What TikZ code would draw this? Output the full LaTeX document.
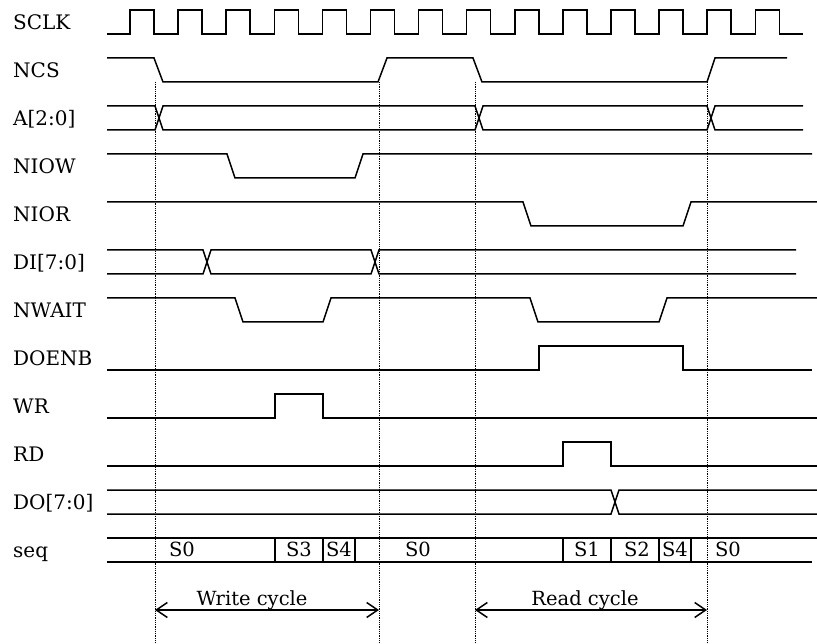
\documentclass[tikz,border=0pt]{standalone}
\usepackage{fontspec}
\setmainfont{DejaVu Serif}
\usetikzlibrary{arrows.meta}
\tikzset{
  sig/.style={line width=1.5pt, line join=miter, color=black},
  mark line/.style={densely dotted, line width=0.8pt, color=black},
  lbl/.style={anchor=base west, inner sep=0pt, font=\fontsize{20}{22}\selectfont},
  st/.style={anchor=base, inner sep=0pt, font=\fontsize{19.5}{22}\selectfont},
  span/.style={{Straight Barb[length=11pt,width=15pt]}-{Straight Barb[length=11pt,width=15pt]},
    line width=1.5pt}
}

\begin{document}
\begin{tikzpicture}[x=1pt, y=-1pt]
\useasboundingbox (0,0) rectangle (817,644);

% ─────────────────────────────────────────────────────────────────────────────
%  Signal names
% ─────────────────────────────────────────────────────────────────────────────
\foreach \txt [count=\i from 0] in {SCLK,NCS,A[2:0],NIOW,NIOR,DI[7:0],NWAIT,DOENB,WR,RD,DO[7:0],seq}
  \node[lbl] (name\i) at (13, {29.5+48*\i}) {\txt};

% ─────────────────────────────────────────────────────────────────────────────
%  Clock
% ─────────────────────────────────────────────────────────────────────────────
\draw[sig] (107,34)
  \foreach \k in {0,...,13} {
    -- ({130+48.1*\k},34) -- ({130+48.1*\k},10)
    -- ({154+48.1*\k},10) -- ({154+48.1*\k},34)
  } -- (803,34);

% ─────────────────────────────────────────────────────────────────────────────
%  Control lines
% ─────────────────────────────────────────────────────────────────────────────
% NCS
\draw[sig] (107,58) -- (154,58) -- (163,82) -- (378,82) -- (387,58)
  -- (473,58) -- (482,82) -- (707,82) -- (715,58) -- (787,58);
% NIOW
\draw[sig] (107,154) -- (227,154) -- (235,178) -- (355,178) -- (363,154) -- (812,154);
% NIOR
\draw[sig] (107,202) -- (523,202) -- (531,226) -- (683,226) -- (691,202) -- (817,202);
% NWAIT
\draw[sig] (107,298) -- (235,298) -- (243,322) -- (323,322) -- (331,298)
  -- (530,298) -- (538,322) -- (659,322) -- (667,298) -- (817,298);
% DOENB
\draw[sig] (107,370) -- (539,370) -- (539,346) -- (683,346) -- (683,370) -- (812,370);
% WR
\draw[sig] (107,418) -- (275,418) -- (275,394) -- (323,394) -- (323,418) -- (817,418);
% RD
\draw[sig] (107,466) -- (563,466) -- (563,442) -- (611,442) -- (611,466) -- (817,466);

% ─────────────────────────────────────────────────────────────────────────────
%  Buses  (two strands, crossing at each change)
% ─────────────────────────────────────────────────────────────────────────────
% A[2:0]
\draw[sig] (107,106) -- (155,106) -- (163,130) -- (475,130) -- (483,106)
  -- (707,106) -- (715,130) -- (803,130);
\draw[sig] (107,130) -- (155,130) -- (163,106) -- (475,106) -- (483,130)
  -- (707,130) -- (715,106) -- (803,106);
% DI[7:0]
\draw[sig] (107,250) -- (203,250) -- (211,274) -- (371,274) -- (379,250) -- (796,250);
\draw[sig] (107,274) -- (203,274) -- (211,250) -- (371,250) -- (379,274) -- (796,274);
% DO[7:0]
\draw[sig] (107,490) -- (611,490) -- (619,514) -- (817,514);
\draw[sig] (107,514) -- (611,514) -- (619,490) -- (817,490);

% ─────────────────────────────────────────────────────────────────────────────
%  Sequencer states
% ─────────────────────────────────────────────────────────────────────────────
\draw[sig] (107,538) -- (817,538);
\draw[sig] (107,562) -- (812,562);
\foreach \x in {275,323,355,563,611,659,691}
  \draw[sig] (\x,538) -- (\x,562);
\foreach \s/\x [count=\j] in {S0/182,S3/299,S4/339,S0/418,S1/587,S2/637,S4/675,S0/728}
  \node[st] (state\j) at (\x,556.5) {\s};

% ─────────────────────────────────────────────────────────────────────────────
%  Cycle boundaries
% ─────────────────────────────────────────────────────────────────────────────
\foreach \x [count=\m] in {155,379,475,707} {
  \coordinate (top\m) at (\x,82);
  \coordinate (bot\m) at (\x,644);
  \coordinate (cyc\m) at (\x,610);
  \draw[mark line] (top\m) -- (bot\m);
}

\draw[span] (cyc1) -- (cyc2);
\node[st] (wcyc) at (252,605) {Write cycle};
\draw[span] (cyc3) -- (cyc4);
\node[st] (rcyc) at (585,605) {Read cycle};

\end{tikzpicture}
\end{document}
